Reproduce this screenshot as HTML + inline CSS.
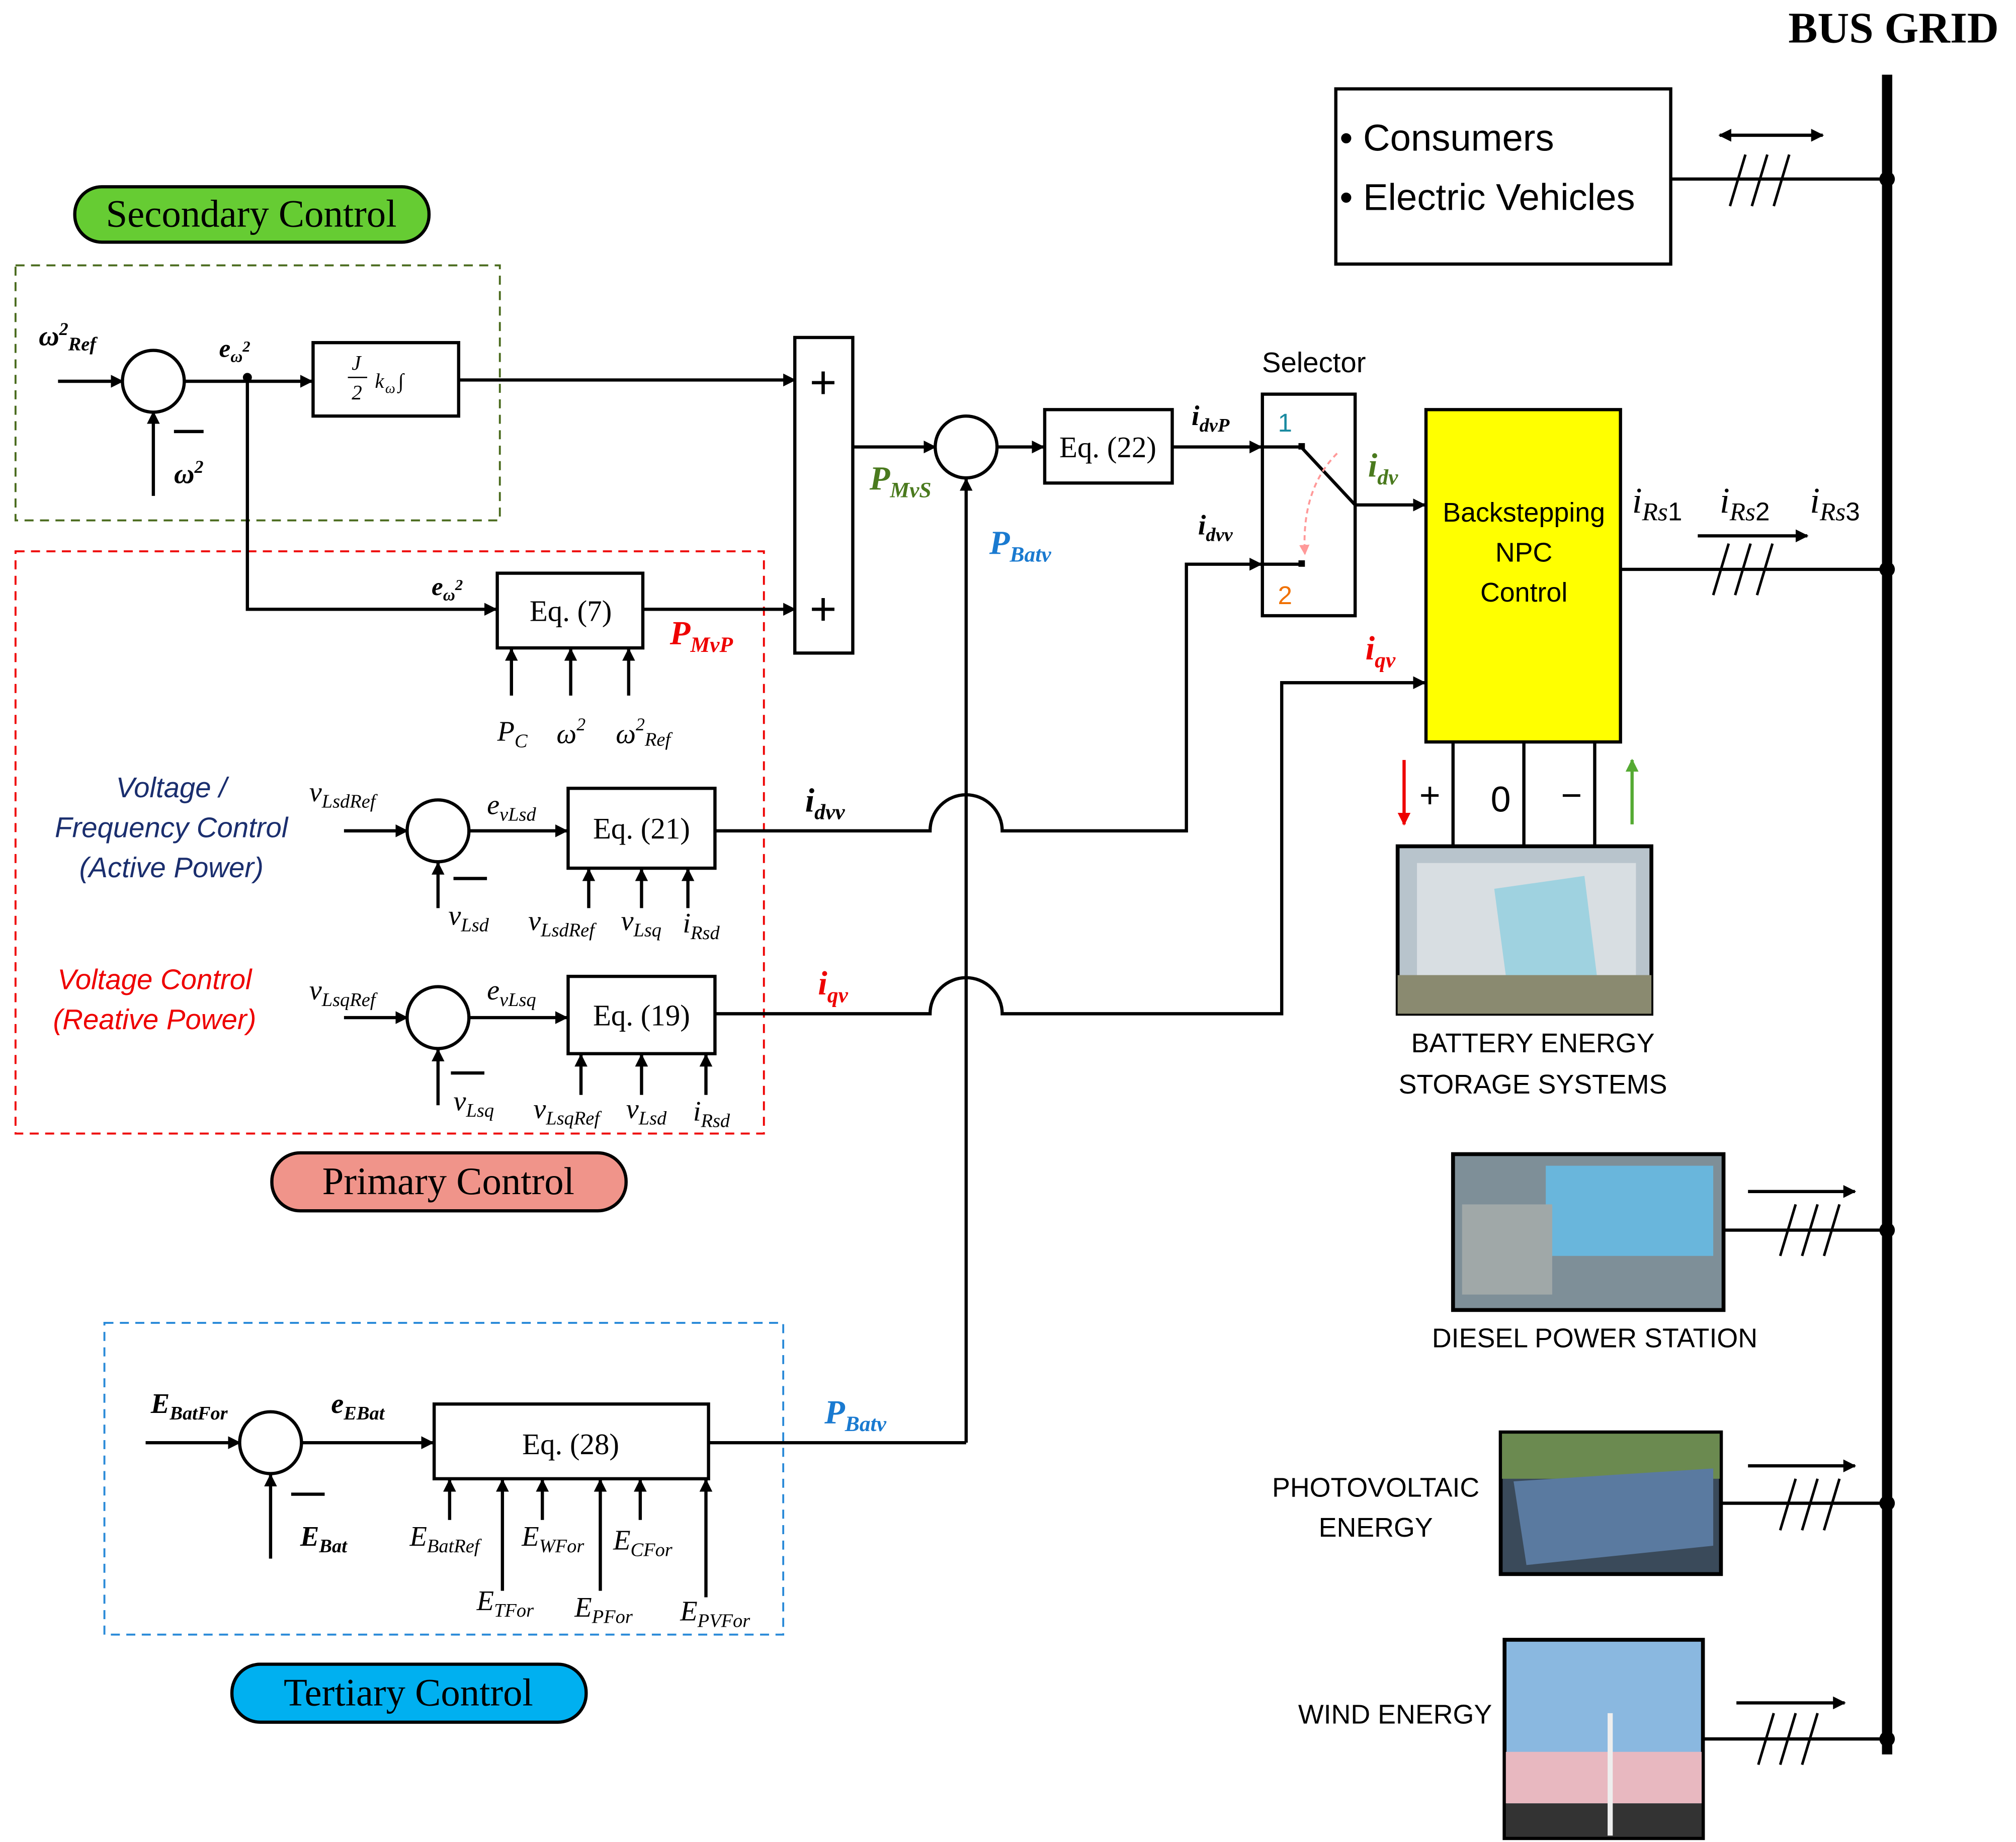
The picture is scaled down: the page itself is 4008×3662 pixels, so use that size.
<!DOCTYPE html>
<html><head><meta charset="utf-8"><style>
html,body{margin:0;padding:0;background:#fff}
svg{display:block}
.m{font-family:"Liberation Serif",serif;font-style:italic}
.b{font-weight:bold}
.s{font-family:"Liberation Sans",sans-serif}
.r{font-family:"Liberation Serif",serif}
</style></head><body>
<svg width="4008" height="3662" viewBox="0 0 1565 1430" xmlns="http://www.w3.org/2000/svg">
<defs><marker id="a" markerWidth="10" markerHeight="10" refX="9" refY="5" orient="auto" markerUnits="userSpaceOnUse"><path d="M0,0 L10,5 L0,10 z" fill="#000"/></marker>
<marker id="a2" markerWidth="10" markerHeight="10" refX="1" refY="5" orient="auto" markerUnits="userSpaceOnUse"><path d="M10,0 L0,5 L10,10 z" fill="#000"/></marker>
<marker id="ar" markerWidth="10" markerHeight="10" refX="9" refY="5" orient="auto" markerUnits="userSpaceOnUse"><path d="M0,0 L10,5 L0,10 z" fill="#e00"/></marker>
<marker id="ag" markerWidth="10" markerHeight="10" refX="9" refY="5" orient="auto" markerUnits="userSpaceOnUse"><path d="M0,0 L10,5 L0,10 z" fill="#5a3"/></marker>
<marker id="ap" markerWidth="8" markerHeight="8" refX="7" refY="4" orient="auto" markerUnits="userSpaceOnUse"><path d="M0,0 L8,4 L0,8 z" fill="#f99"/></marker>
</defs>
<g fill="none" stroke="#000" stroke-width="2.5">
<!-- bus -->
<line x1="1465" y1="58" x2="1465" y2="1362" stroke-width="8"/>
<rect x="1037" y="69" width="260" height="136"/>
<line x1="1297" y1="139" x2="1465" y2="139"/>
<line x1="1335" y1="105" x2="1415" y2="105" marker-end="url(#a)" marker-start="url(#a2)"/>
<path d="M1343,160 l12,-40 M1360,160 l12,-40 M1377,160 l12,-40" stroke-width="2"/>
<line x1="1258" y1="442" x2="1465" y2="442"/>
<line x1="1318" y1="416" x2="1403" y2="416" marker-end="url(#a)"/>
<path d="M1330,462 l12,-40 M1347,462 l12,-40 M1364,462 l12,-40" stroke-width="2"/>
<line x1="1338" y1="955" x2="1465" y2="955"/>
<line x1="1357" y1="925" x2="1440" y2="925" marker-end="url(#a)"/>
<path d="M1382,975 l12,-40 M1399,975 l12,-40 M1416,975 l12,-40" stroke-width="2"/>
<line x1="1336" y1="1167" x2="1465" y2="1167"/>
<line x1="1357" y1="1138" x2="1440" y2="1138" marker-end="url(#a)"/>
<path d="M1382,1188 l12,-40 M1399,1188 l12,-40 M1416,1188 l12,-40" stroke-width="2"/>
<line x1="1322" y1="1350" x2="1465" y2="1350"/>
<line x1="1348" y1="1322" x2="1432" y2="1322" marker-end="url(#a)"/>
<path d="M1365,1370 l12,-40 M1382,1370 l12,-40 M1399,1370 l12,-40" stroke-width="2"/>
<!-- dashed boxes -->
<rect x="12" y="206" width="376" height="198" stroke="#4a6b1e" stroke-width="1.5" stroke-dasharray="7,5"/>
<rect x="12" y="428" width="581" height="452" stroke="#e00" stroke-width="1.5" stroke-dasharray="7,5"/>
<rect x="81" y="1027" width="527" height="242" stroke="#2a8ad8" stroke-width="1.5" stroke-dasharray="7,5"/>
<!-- secondary -->
<circle cx="119" cy="296" r="24"/>
<line x1="45" y1="296" x2="95" y2="296" marker-end="url(#a)"/>
<line x1="119" y1="385" x2="119" y2="320" marker-end="url(#a)"/>
<line x1="135" y1="335" x2="158" y2="335"/>
<line x1="143" y1="296" x2="242" y2="296" marker-end="url(#a)"/>
<rect x="243" y="266" width="113" height="57"/>
<line x1="356" y1="295" x2="617" y2="295" marker-end="url(#a)"/>
<polyline points="192,296 192,473 385,473" marker-end="url(#a)"/>
<rect x="386" y="445" width="113" height="58"/>
<line x1="499" y1="473" x2="617" y2="473" marker-end="url(#a)"/>
<line x1="397" y1="540" x2="397" y2="504" marker-end="url(#a)"/>
<line x1="443" y1="540" x2="443" y2="504" marker-end="url(#a)"/>
<line x1="488" y1="540" x2="488" y2="504" marker-end="url(#a)"/>
<rect x="617" y="262" width="45" height="245"/>
<line x1="662" y1="347" x2="726" y2="347" marker-end="url(#a)"/>
<circle cx="750" cy="347" r="24"/>
<line x1="750" y1="1120" x2="750" y2="372" marker-end="url(#a)"/>
<line x1="774" y1="347" x2="810" y2="347" marker-end="url(#a)"/>
<rect x="811" y="318" width="99" height="57"/>
<line x1="910" y1="347" x2="979" y2="347" marker-end="url(#a)"/>
<rect x="980" y="306" width="72" height="172"/>
<polyline points="980,347 1010,347 1052,392"/>
<line x1="980" y1="438" x2="1010" y2="438"/>
<line x1="1052" y1="392" x2="1106" y2="392" marker-end="url(#a)"/>
<path d="M1038,352 Q1010,380 1013,430" stroke="#f99" stroke-width="1.5" stroke-dasharray="4,3" marker-end="url(#ap)"/>
<!-- idvv -->
<path d="M555,645 H722 A28,28 0 0 1 778,645 H921 V438 H979" marker-end="url(#a)"/>
<path d="M555,787 H722 A28,28 0 0 1 778,787 H995 V530 H1106" marker-end="url(#a)"/>
<!-- v/f -->
<circle cx="340" cy="645" r="24"/>
<line x1="267" y1="645" x2="316" y2="645" marker-end="url(#a)"/>
<line x1="340" y1="705" x2="340" y2="670" marker-end="url(#a)"/>
<line x1="352" y1="682" x2="378" y2="682"/>
<line x1="364" y1="645" x2="440" y2="645" marker-end="url(#a)"/>
<rect x="441" y="612" width="114" height="62"/>
<line x1="457" y1="705" x2="457" y2="675" marker-end="url(#a)"/>
<line x1="498" y1="705" x2="498" y2="675" marker-end="url(#a)"/>
<line x1="534" y1="705" x2="534" y2="675" marker-end="url(#a)"/>
<circle cx="340" cy="790" r="24"/>
<line x1="267" y1="790" x2="316" y2="790" marker-end="url(#a)"/>
<line x1="340" y1="858" x2="340" y2="815" marker-end="url(#a)"/>
<line x1="350" y1="833" x2="376" y2="833"/>
<line x1="364" y1="790" x2="440" y2="790" marker-end="url(#a)"/>
<rect x="441" y="758" width="114" height="60"/>
<line x1="451" y1="850" x2="451" y2="819" marker-end="url(#a)"/>
<line x1="498" y1="850" x2="498" y2="819" marker-end="url(#a)"/>
<line x1="548" y1="850" x2="548" y2="819" marker-end="url(#a)"/>
<!-- tertiary -->
<circle cx="210" cy="1120" r="24"/>
<line x1="113" y1="1120" x2="186" y2="1120" marker-end="url(#a)"/>
<line x1="210" y1="1210" x2="210" y2="1145" marker-end="url(#a)"/>
<line x1="226" y1="1160" x2="252" y2="1160"/>
<line x1="234" y1="1120" x2="336" y2="1120" marker-end="url(#a)"/>
<rect x="337" y="1090" width="213" height="58"/>
<line x1="550" y1="1120" x2="750" y2="1120"/>
<line x1="349" y1="1180" x2="349" y2="1149" marker-end="url(#a)"/>
<line x1="390" y1="1235" x2="390" y2="1149" marker-end="url(#a)"/>
<line x1="421" y1="1180" x2="421" y2="1149" marker-end="url(#a)"/>
<line x1="466" y1="1235" x2="466" y2="1149" marker-end="url(#a)"/>
<line x1="497" y1="1180" x2="497" y2="1149" marker-end="url(#a)"/>
<line x1="548" y1="1240" x2="548" y2="1149" marker-end="url(#a)"/>
<!-- battery leads -->
<line x1="1128" y1="576" x2="1128" y2="657"/>
<line x1="1183" y1="576" x2="1183" y2="657"/>
<line x1="1238" y1="576" x2="1238" y2="657"/>
<line x1="1090" y1="590" x2="1090" y2="640" stroke="#e00" marker-end="url(#ar)"/>
<line x1="1267" y1="640" x2="1267" y2="590" stroke="#5a3" marker-end="url(#ag)"/>
</g>
<g fill="#000">
<circle cx="1465" cy="139" r="6"/><circle cx="1465" cy="442" r="6"/><circle cx="1465" cy="955" r="6"/><circle cx="1465" cy="1167" r="6"/><circle cx="1465" cy="1350" r="6"/>
<circle cx="192" cy="293" r="3.5"/>
<rect x="1008" y="344" width="5" height="5"/><rect x="1008" y="435" width="5" height="5"/>
</g>
<rect x="1107" y="318" width="151" height="258" fill="#ffff00" stroke="#000" stroke-width="2.5"/>
<!-- images -->
<rect x="1085" y="657" width="197" height="130" fill="#b8c4cc" stroke="#000" stroke-width="3"/>
<rect x="1100" y="670" width="170" height="105" fill="#d8dee2"/>
<path d="M1160,690 L1230,680 L1240,760 L1170,765z" fill="#9fd2e0"/>
<rect x="1085" y="757" width="197" height="30" fill="#8a8a70"/>
<rect x="1128" y="896" width="210" height="121" fill="#7e8f98" stroke="#000" stroke-width="3"/>
<rect x="1200" y="905" width="130" height="70" fill="#69b6dc"/>
<rect x="1135" y="935" width="70" height="70" fill="#a0a8a8"/>
<rect x="1165" y="1112" width="171" height="110" fill="#3a4a5a" stroke="#000" stroke-width="3"/>
<rect x="1166" y="1113" width="169" height="35" fill="#6b8a50"/>
<path d="M1175,1150 L1330,1140 L1330,1200 L1185,1215z" fill="#5a7aa0"/>
<rect x="1168" y="1273" width="154" height="154" fill="#8ab8e0" stroke="#000" stroke-width="3"/>
<rect x="1169" y="1360" width="152" height="40" fill="#e8b8c0"/>
<rect x="1169" y="1400" width="152" height="26" fill="#333"/>
<line x1="1250" y1="1330" x2="1250" y2="1425" stroke="#eee" stroke-width="4"/>
<!-- pills -->
<rect x="58" y="145" width="275" height="43" rx="21" fill="#66cc33" stroke="#000" stroke-width="2.5"/>
<rect x="211" y="895" width="275" height="45" rx="22" fill="#f0948a" stroke="#000" stroke-width="2.5"/>
<rect x="180" y="1292" width="275" height="45" rx="22" fill="#00b0f0" stroke="#000" stroke-width="2.5"/>
<g class="r" font-size="30" text-anchor="middle">
<text x="195" y="176">Secondary Control</text>
<text x="348" y="927">Primary Control</text>
<text x="317" y="1324">Tertiary Control</text>
</g>
<text x="1470" y="33" class="r b" font-size="34" text-anchor="middle">BUS GRID</text>
<g class="s" font-size="29"><text x="1040" y="117">• Consumers</text><text x="1040" y="163">• Electric Vehicles</text></g>
<g class="s" font-size="21" text-anchor="middle">
<text x="1183" y="405">Backstepping</text><text x="1183" y="436">NPC</text><text x="1183" y="467">Control</text>
<text x="1190" y="817">BATTERY ENERGY</text><text x="1190" y="849">STORAGE SYSTEMS</text>
<text x="1238" y="1046">DIESEL POWER STATION</text>
<text x="1068" y="1162">PHOTOVOLTAIC</text><text x="1068" y="1193">ENERGY</text>
<text x="1083" y="1338">WIND ENERGY</text>
<text x="1020" y="289" font-size="22">Selector</text>
</g>
<g class="s" font-size="20"><text x="992" y="335" fill="#1a8aa0">1</text><text x="992" y="469" fill="#f07000">2</text></g>
<g class="s" font-size="28" text-anchor="middle"><text x="1110" y="627">+</text><text x="1165" y="630">0</text><text x="1220" y="627">−</text></g>
<g class="s" font-size="36" text-anchor="middle"><text x="639" y="309">+</text><text x="639" y="485">+</text></g>
<g class="r" font-size="23" text-anchor="middle">
<text x="443" y="482">Eq. (7)</text><text x="860" y="355">Eq. (22)</text>
<text x="498" y="651">Eq. (21)</text><text x="498" y="796">Eq. (19)</text><text x="443" y="1129">Eq. (28)</text>
</g>
<g class="m" font-size="16"><text x="273" y="287">J</text><line x1="270" y1="293" x2="285" y2="293" stroke="#000"/><text x="273" y="310">2</text><text x="291" y="301">k</text><text x="299" y="305" font-size="11">ω</text><text x="309" y="301">∫</text></g>
<g class="s" font-style="italic" font-size="22" text-anchor="middle" fill="#1a2e6e">
<text x="133" y="619">Voltage /</text><text x="133" y="650">Frequency Control</text><text x="133" y="681">(Active Power)</text>
</g>
<g class="s" font-style="italic" font-size="22" text-anchor="middle" fill="#e00">
<text x="120" y="768">Voltage Control</text><text x="120" y="799">(Reative Power)</text>
</g>
<g class="m" font-size="22">
<text x="30" y="268" class="b">ω<tspan font-size="14" dy="-8">2</tspan><tspan font-size="15" dy="12">Ref</tspan></text>
<text x="135" y="375" class="b">ω<tspan font-size="14" dy="-8">2</tspan></text>
<text x="170" y="277" class="b" font-size="20">e<tspan font-size="13" dy="4">ω</tspan><tspan font-size="12" dy="-8">2</tspan></text>
<text x="335" y="462" class="b" font-size="20">e<tspan font-size="13" dy="4">ω</tspan><tspan font-size="12" dy="-8">2</tspan></text>
<text x="520" y="500" class="b" fill="#e00" font-size="26">P<tspan font-size="17" dy="6">MvP</tspan></text>
<text x="675" y="380" class="b" fill="#4a7a1e" font-size="26">P<tspan font-size="17" dy="6">MvS</tspan></text>
<text x="768" y="430" class="b" fill="#1a7ad0" font-size="26">P<tspan font-size="17" dy="6">Batv</tspan></text>
<text x="640" y="1105" class="b" fill="#1a7ad0" font-size="26">P<tspan font-size="17" dy="6">Batv</tspan></text>
<text x="925" y="330" class="b">i<tspan font-size="15" dy="5">dvP</tspan></text>
<text x="930" y="415" class="b">i<tspan font-size="15" dy="5">dvv</tspan></text>
<text x="1062" y="370" class="b" fill="#4a7a1e" font-size="26">i<tspan font-size="17" dy="6">dv</tspan></text>
<text x="1060" y="512" class="b" fill="#e00" font-size="26">i<tspan font-size="17" dy="6">qv</tspan></text>
<text x="625" y="630" class="b" font-size="26">i<tspan font-size="17" dy="6">dvv</tspan></text>
<text x="635" y="772" class="b" fill="#e00" font-size="26">i<tspan font-size="17" dy="6">qv</tspan></text>
<text x="1267" y="398" font-size="28">i<tspan font-size="20" dy="6">Rs</tspan><tspan class="s" font-style="normal" font-size="20">1</tspan></text>
<text x="1335" y="398" font-size="28">i<tspan font-size="20" dy="6">Rs</tspan><tspan class="s" font-style="normal" font-size="20">2</tspan></text>
<text x="1405" y="398" font-size="28">i<tspan font-size="20" dy="6">Rs</tspan><tspan class="s" font-style="normal" font-size="20">3</tspan></text>
<text x="386" y="575">P<tspan font-size="15" dy="5">C</tspan></text>
<text x="432" y="577">ω<tspan font-size="14" dy="-10">2</tspan></text>
<text x="478" y="577">ω<tspan font-size="14" dy="-10">2</tspan><tspan font-size="15" dy="12">Ref</tspan></text>
<text x="240" y="622">v<tspan font-size="15" dy="5">LsdRef</tspan></text>
<text x="378" y="632">e<tspan font-size="15" dy="5">vLsd</tspan></text>
<text x="348" y="718">v<tspan font-size="15" dy="5">Lsd</tspan></text>
<text x="410" y="722">v<tspan font-size="15" dy="5">LsdRef</tspan></text>
<text x="482" y="722">v<tspan font-size="15" dy="5">Lsq</tspan></text>
<text x="530" y="724">i<tspan font-size="15" dy="5">Rsd</tspan></text>
<text x="240" y="776">v<tspan font-size="15" dy="5">LsqRef</tspan></text>
<text x="378" y="776">e<tspan font-size="15" dy="5">vLsq</tspan></text>
<text x="352" y="862">v<tspan font-size="15" dy="5">Lsq</tspan></text>
<text x="414" y="868">v<tspan font-size="15" dy="5">LsqRef</tspan></text>
<text x="486" y="868">v<tspan font-size="15" dy="5">Lsd</tspan></text>
<text x="538" y="870">i<tspan font-size="15" dy="5">Rsd</tspan></text>
<text x="117" y="1097" class="b">E<tspan font-size="15" dy="5">BatFor</tspan></text>
<text x="257" y="1097" class="b">e<tspan font-size="15" dy="5">EBat</tspan></text>
<text x="233" y="1200" class="b">E<tspan font-size="15" dy="5">Bat</tspan></text>
<text x="318" y="1200">E<tspan font-size="15" dy="5">BatRef</tspan></text>
<text x="405" y="1200">E<tspan font-size="15" dy="5">WFor</tspan></text>
<text x="476" y="1203">E<tspan font-size="15" dy="5">CFor</tspan></text>
<text x="370" y="1250">E<tspan font-size="15" dy="5">TFor</tspan></text>
<text x="446" y="1255">E<tspan font-size="15" dy="5">PFor</tspan></text>
<text x="528" y="1258">E<tspan font-size="15" dy="5">PVFor</tspan></text>
</g>
</svg>
</body></html>
